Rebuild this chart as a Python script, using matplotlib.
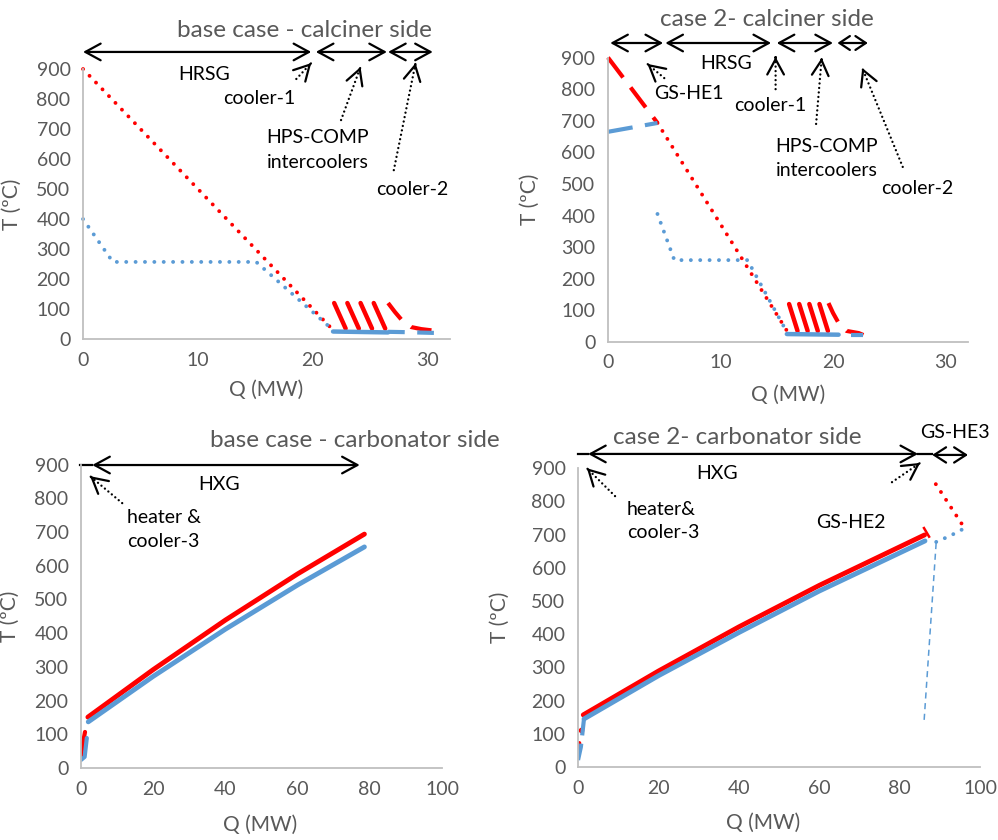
import numpy as np
import matplotlib.pyplot as plt

plt.rcParams['font.family'] = ['Lato', 'DejaVu Sans']

RED = '#FF0000'
BLUE = '#5B9BD5'
GREY = '#595959'
AXC = '#BFBFBF'

# ---------------- base case - calciner side ----------------
bc_gas_Q = [0, 21.8]
bc_gas_T = [900, 30]
bc_steam_Q = [0, 2.6, 15.1, 21.8]
bc_steam_T = [400, 257, 257, 30]
bc_ic_Q0 = [21.9, 23.05, 24.2, 25.35]   # HPS-COMP intercoolers (hot side)
bc_ic_Q1 = [22.9, 24.05, 25.2, 26.35]
ic_T = [120, 35]
bc_c2_Q = [26.6, 27.2, 27.8, 28.6, 29.5, 30.6, 30.9]
bc_c2_T = [120, 90, 63, 40, 33, 28, 22]
bc_cw_Q = [21.8, 26.6]
bc_cw_T = [25, 22]
bc_cw2_Q = [26.6, 28.0, 31.0]
bc_cw2_T = [24, 23, 20]

# ---------------- case 2 - calciner side ----------------
c2_gas1_Q = [0, 4.4]
c2_gas1_T = [900, 693]
c2_gas2_Q = [4.4, 16.0]
c2_gas2_T = [693, 30]
c2_he1_Q = [0, 4.4]
c2_he1_T = [665, 693]
c2_steam_Q = [4.4, 5.9, 12.4, 16.0]
c2_steam_T = [405, 259, 259, 25]
c2_ic_Q0 = [16.1, 17.0, 17.9, 18.8]
c2_ic_Q1 = [16.85, 17.75, 18.65, 19.55]
c2_c2_Q = [19.6, 20.0, 20.5, 21.2, 22.3, 22.7]
c2_c2_T = [123, 92, 60, 35, 28, 22]
c2_cw_Q = [15.9, 20.5]
c2_cw_T = [25, 23]
c2_cw2_Q = [21.6, 22.7]
c2_cw2_T = [22, 22]

# ---------------- base case - carbonator side ----------------
bcc_hot_Q = [1.9, 20, 40, 60, 78.5]
bcc_hot_T = [151, 292, 439, 576, 694]
bcc_cold_Q = [2.0, 20, 40, 60, 78.5]
bcc_cold_T = [137, 272, 412, 543, 656]
bcc_hot0_Q = [0, 0.3, 1.1]
bcc_hot0_T = [33, 60, 107]
bcc_cold0_Q = [0, 1.0, 1.6]
bcc_cold0_T = [24, 33, 89]

# ---------------- case 2 - carbonator side ----------------
c2c_hot_Q = [1.3, 20, 40, 60, 86.2]
c2c_hot_T = [157, 289, 422, 547, 699]
c2c_cold_Q = [1.5, 20, 40, 60, 86.3]
c2c_cold_T = [145, 275, 405, 530, 681]
c2c_hot0_Q = [0, 0.3]
c2c_hot0_T = [36, 72]
c2c_hotdot_Q = [0.8]
c2c_hotdot_T = [111]
c2c_cold0_Q = [0, 0.7, 1.5]
c2c_cold0_T = [21, 60, 147]
c2c_he2_Q = [85.9, 88.1]
c2c_he2_T = [723, 678]
c2c_he3h_Q = [89.0, 95.8]
c2c_he3h_T = [852, 726]
c2c_he3c_Q = [89.1, 92.5, 95.8]
c2c_he3c_T = [678, 696, 717]
c2c_byp_Q = [86.1, 89.1]
c2c_byp_T = [142, 678]


def style(ax, xmax, xstep):
    ax.set_xlim(0, xmax)
    ax.set_ylim(0, 900)
    ax.set_xticks(np.arange(0, xmax + 0.1, xstep))
    ax.set_yticks(np.arange(0, 901, 100))
    for s in ['top', 'right']:
        ax.spines[s].set_visible(False)
    for s in ['left', 'bottom']:
        ax.spines[s].set_color(AXC)
        ax.spines[s].set_linewidth(1.3)
    ax.tick_params(length=0, labelsize=14, labelcolor=GREY)
    ax.tick_params(axis='y', pad=9)
    ax.tick_params(axis='x', pad=9)
    ax.set_xlabel('Q (MW)', fontsize=15, color=GREY)
    ax.set_ylabel('T (ºC)', fontsize=15, color=GREY)


def span(ax, q0, q1, T, hl=1.1, hw=0.6):
    ax.annotate('', xy=(q1, T), xytext=(q0, T), annotation_clip=False,
                arrowprops=dict(arrowstyle=f'<->,head_length={hl},head_width={hw}',
                                lw=1.6, color='k', shrinkA=0, shrinkB=0))


def pointer(ax, qf, Tf, qt, Tt):
    ax.annotate('', xy=(qt, Tt), xytext=(qf, Tf), annotation_clip=False,
                arrowprops=dict(arrowstyle='-', lw=1.7, ls=(0, (0.01, 1.9)),
                                capstyle='round', color='k', shrinkA=0, shrinkB=0))
    ax.annotate('', xy=(qt, Tt), xytext=(qt - 0.02 * (qt - qf), Tt - 0.02 * (Tt - Tf)),
                annotation_clip=False,
                arrowprops=dict(arrowstyle='->,head_length=1.1,head_width=0.6',
                                lw=1.6, color='k', shrinkA=0, shrinkB=0))


def label(ax, q, T, s, ha='center'):
    ax.text(q, T, s, ha=ha, va='center', fontsize=14, color='k', clip_on=False)


fig = plt.figure(figsize=(9.98, 8.4), dpi=100)
ax1 = fig.add_axes([0.0832, 0.5964, 0.3677, 0.3214])
ax2 = fig.add_axes([0.6092, 0.5929, 0.3607, 0.3386])
ax3 = fig.add_axes([0.0812, 0.0857, 0.3617, 0.3611])
ax4 = fig.add_axes([0.5792, 0.0869, 0.4028, 0.3557])

dot = dict(ls=(0, (0.01, 2.4)), lw=2.8, dash_capstyle='round', clip_on=False)

# ---- panel 1
style(ax1, 32, 10)
ax1.plot(bc_gas_Q, bc_gas_T, color=RED, **dot)
ax1.plot(bc_steam_Q, bc_steam_T, color=BLUE, **dot)
for q0, q1 in zip(bc_ic_Q0, bc_ic_Q1):
    ax1.plot([q0, q1], ic_T, color=RED, lw=3.2, solid_capstyle='round')
ax1.plot(bc_c2_Q, bc_c2_T, color=RED, lw=3, ls=(0, (5, 3)))
ax1.plot(bc_cw_Q, bc_cw_T, color=BLUE, lw=3.2, solid_capstyle='round')
ax1.plot(bc_cw2_Q, bc_cw2_T, color=BLUE, lw=3, ls=(0, (4, 3)))
ax1.text(19.3, 1030, 'base case - calciner side', ha='center', va='center',
         fontsize=17.5, color=GREY, clip_on=False)
span(ax1, 0, 19.9, 957)
span(ax1, 20.3, 26.5, 957)
span(ax1, 26.6, 30.5, 957)
label(ax1, 10.6, 883, 'HRSG')
label(ax1, 15.4, 803, 'cooler-1')
label(ax1, 16.0, 673, 'HPS-COMP', ha='left')
label(ax1, 16.0, 590, 'intercoolers', ha='left')
label(ax1, 25.6, 500, 'cooler-2', ha='left')
pointer(ax1, 18.6, 867, 19.9, 920)
pointer(ax1, 22.5, 730, 24.2, 907)
pointer(ax1, 27.1, 563, 29.0, 920)
ax1.yaxis.set_label_coords(-0.166, 0.5)
ax1.xaxis.set_label_coords(0.5, -0.15)

# ---- panel 2
style(ax2, 32, 10)
ax2.plot(c2_gas1_Q, c2_gas1_T, color=RED, lw=3, ls=(0, (6, 3)), clip_on=False)
ax2.plot(c2_gas2_Q, c2_gas2_T, color=RED, **dot)
ax2.plot(c2_he1_Q, c2_he1_T, color=BLUE, lw=3, ls=(0, (6, 3)))
ax2.plot(c2_steam_Q, c2_steam_T, color=BLUE, **dot)
for q0, q1 in zip(c2_ic_Q0, c2_ic_Q1):
    ax2.plot([q0, q1], ic_T, color=RED, lw=3.2, solid_capstyle='round')
ax2.plot(c2_c2_Q, c2_c2_T, color=RED, lw=3, ls=(0, (5, 3)))
ax2.plot(c2_cw_Q, c2_cw_T, color=BLUE, lw=3.2, solid_capstyle='round')
ax2.plot(c2_cw2_Q, c2_cw2_T, color=BLUE, lw=3, ls=(0, (4, 3)))
ax2.text(14.1, 1019, 'case 2- calciner side', ha='center', va='center',
         fontsize=17.5, color=GREY, clip_on=False)
span(ax2, 0.2, 4.9, 946)
span(ax2, 5.1, 14.5, 946)
span(ax2, 15.0, 20.0, 946)
span(ax2, 20.4, 23.1, 946, hl=0.75, hw=0.5)
label(ax2, 10.5, 880, 'HRSG')
label(ax2, 7.2, 785, 'GS-HE1')
label(ax2, 14.4, 747, 'cooler-1')
label(ax2, 14.9, 620, 'HPS-COMP', ha='left')
label(ax2, 14.9, 544, 'intercoolers', ha='left')
label(ax2, 24.3, 487, 'cooler-2', ha='left')
pointer(ax2, 5.0, 835, 3.5, 880)
pointer(ax2, 14.9, 800, 14.9, 902)
pointer(ax2, 18.5, 690, 19.0, 899)
pointer(ax2, 26.2, 554, 22.6, 867)
ax2.yaxis.set_label_coords(-0.189, 0.5)
ax2.xaxis.set_label_coords(0.5, -0.15)

# ---- panel 3
style(ax3, 100, 20)
ax3.plot(bcc_hot_Q, bcc_hot_T, color=RED, lw=3.5, solid_capstyle='round')
ax3.plot(bcc_cold_Q, bcc_cold_T, color=BLUE, lw=3.5, solid_capstyle='round')
ax3.plot(bcc_hot0_Q, bcc_hot0_T, color=RED, lw=3, solid_capstyle='round')
ax3.plot(bcc_cold0_Q, bcc_cold0_T, color=BLUE, lw=3, solid_capstyle='round')
ax3.text(75.8, 973, 'base case - carbonator side', ha='center', va='center',
         fontsize=17.5, color=GREY, clip_on=False)
ax3.plot([-0.3, 3.1], [899, 899], color='k', lw=1.6, clip_on=False)
span(ax3, 3.1, 77.2, 899)
label(ax3, 38.2, 840, 'HXG')
label(ax3, 12.8, 742, 'heater &', ha='left')
label(ax3, 12.8, 671, 'cooler-3', ha='left')
pointer(ax3, 11.4, 786, 2.5, 866)
ax3.yaxis.set_label_coords(-0.169, 0.5)
ax3.xaxis.set_label_coords(0.496, -0.155)

# ---- panel 4
style(ax4, 100, 20)
ax4.plot(c2c_hot_Q, c2c_hot_T, color=RED, lw=3.5, solid_capstyle='round')
ax4.plot(c2c_cold_Q, c2c_cold_T, color=BLUE, lw=3.5, solid_capstyle='round')
ax4.plot(c2c_hot0_Q, c2c_hot0_T, color=RED, lw=3, solid_capstyle='round')
ax4.plot(c2c_hotdot_Q, c2c_hotdot_T, 'o', color=RED, ms=3)
ax4.plot(c2c_cold0_Q, c2c_cold0_T, color=BLUE, lw=3, ls=(0, (4, 2)))
ax4.plot(c2c_he2_Q, c2c_he2_T, color=RED, lw=1.8, ls=(0, (5, 3)))
ax4.plot(c2c_he3h_Q, c2c_he3h_T, color=RED, **dot)
ax4.plot(c2c_he3c_Q, c2c_he3c_T, color=BLUE, **dot)
ax4.plot(c2c_byp_Q, c2c_byp_T, color=BLUE, lw=1.1, ls=(0, (4, 3)))
ax4.text(39.6, 994, 'case 2- carbonator side', ha='center', va='center',
         fontsize=17.5, color=GREY, clip_on=False)
ax4.plot([0, 2.5], [943, 943], color='k', lw=1.6, clip_on=False)
span(ax4, 2.5, 84.6, 943)
ax4.plot([84.6, 88.1], [943, 943], color='k', lw=1.6, clip_on=False)
span(ax4, 88.1, 97.0, 940, hl=0.85, hw=0.55)
label(ax4, 34.6, 883, 'HXG')
label(ax4, 12.2, 777, 'heater&', ha='left')
label(ax4, 12.2, 705, 'cooler-3', ha='left')
label(ax4, 67.9, 735, 'GS-HE2')
label(ax4, 93.8, 1009, 'GS-HE3')
pointer(ax4, 9.2, 816, 2.2, 900)
pointer(ax4, 78.1, 858, 85.1, 916)
ax4.yaxis.set_label_coords(-0.169, 0.5)
ax4.xaxis.set_label_coords(0.46, -0.155)

fig.savefig('out.png', dpi=100)
